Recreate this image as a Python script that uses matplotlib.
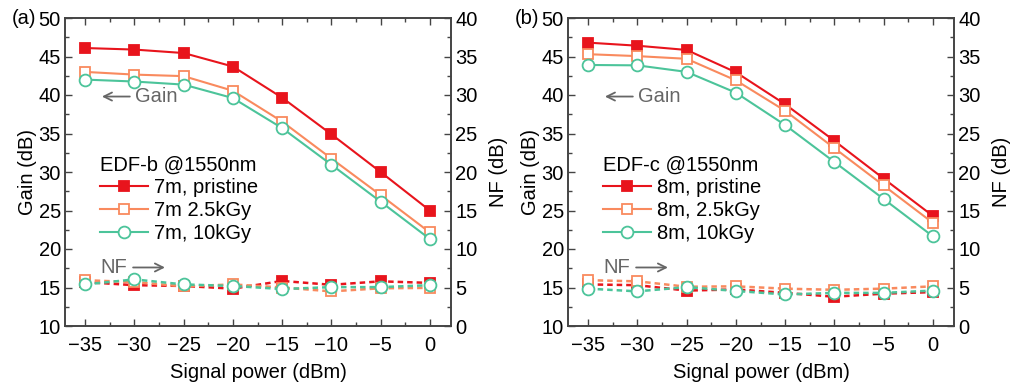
import matplotlib
matplotlib.use('Agg')
import matplotlib.pyplot as plt
from matplotlib.ticker import MultipleLocator

plt.rcParams['font.family'] = ['Liberation Sans', 'DejaVu Sans']
plt.rcParams['font.size'] = 14.5

power = [-35, -30, -25, -20, -15, -10, -5, 0]

# EDF-b, 7 m
gain_b_pristine = [46.1, 45.9, 45.45, 43.7, 39.65, 34.9, 30.0, 25.0]
gain_b_2k5 = [43.0, 42.65, 42.45, 40.55, 36.55, 31.75, 27.0, 22.15]
gain_b_10k = [42.0, 41.75, 41.35, 39.6, 35.7, 30.95, 26.15, 21.3]
nf_b_pristine = [5.7, 5.3, 5.2, 4.85, 5.85, 5.35, 5.8, 5.6]
nf_b_2k5 = [5.95, 5.7, 5.15, 5.4, 5.0, 4.5, 4.9, 4.95]
nf_b_10k = [5.4, 6.05, 5.4, 5.2, 4.8, 5.05, 5.05, 5.3]

# EDF-c, 8 m
gain_c_pristine = [46.8, 46.4, 45.85, 42.95, 38.8, 34.05, 29.15, 24.3]
gain_c_2k5 = [45.3, 45.05, 44.7, 41.9, 37.95, 33.1, 28.25, 23.4]
gain_c_10k = [43.9, 43.85, 43.0, 40.3, 36.1, 31.3, 26.5, 21.65]
nf_c_pristine = [5.4, 5.3, 4.6, 4.75, 4.3, 3.8, 4.2, 4.4]
nf_c_2k5 = [5.95, 5.8, 5.1, 5.15, 4.85, 4.7, 4.85, 5.15]
nf_c_10k = [4.85, 4.5, 5.05, 4.55, 4.1, 4.3, 4.3, 4.6]

RED = '#e8141c'
ORANGE = '#f98a5e'
GREEN = '#4cc49a'
SPINE = '#444444'
NOTE = '#666666'

panels = [
    ('(a)', 'EDF-b @1550nm',
     ['7m, pristine', '7m 2.5kGy', '7m, 10kGy'],
     [gain_b_pristine, gain_b_2k5, gain_b_10k],
     [nf_b_pristine, nf_b_2k5, nf_b_10k]),
    ('(b)', 'EDF-c @1550nm',
     ['8m, pristine', '8m, 2.5kGy', '8m, 10kGy'],
     [gain_c_pristine, gain_c_2k5, gain_c_10k],
     [nf_c_pristine, nf_c_2k5, nf_c_10k]),
]

styles = [
    dict(color=RED, marker='s', mfc=RED, mec=RED, ms=7),
    dict(color=ORANGE, marker='s', mfc='white', mec=ORANGE, ms=7),
    dict(color=GREEN, marker='o', mfc='white', mec=GREEN, ms=8.5),
]

fig = plt.figure(figsize=(10.11, 3.88), dpi=100)
lefts = [65 / 1011, 568 / 1011]

for left, (tag, title, labels, gains, nfs) in zip(lefts, panels):
    ax = fig.add_axes([left, 62 / 388, 386 / 1011, 308 / 388])
    ax2 = ax.twinx()

    for g, n, lab, st in zip(gains, nfs, labels, styles):
        ax.plot(power, g, '-', lw=1.5, mew=1.3, label=lab, zorder=3, **st)
        ax2.plot(power, n, '--', lw=1.8, mew=1.3, dashes=(2.2, 1.6), zorder=3, **st)

    ax.set_xlim(-37.05, 2.15)
    ax.set_ylim(10, 50)
    ax2.set_ylim(0, 40)
    ax.set_xticks(power)
    ax.xaxis.set_minor_locator(MultipleLocator(2.5))
    ax.yaxis.set_major_locator(MultipleLocator(5))
    ax.yaxis.set_minor_locator(MultipleLocator(2.5))
    ax2.yaxis.set_major_locator(MultipleLocator(5))
    ax2.yaxis.set_minor_locator(MultipleLocator(2.5))

    ax.tick_params(which='both', direction='in', top=True, right=False,
                   color=SPINE, width=1.0)
    ax.tick_params(which='major', length=5)
    ax.tick_params(which='minor', length=3)
    ax.tick_params(axis='x', which='major', pad=7)
    ax.tick_params(axis='y', which='major', pad=3)
    ax2.tick_params(which='both', direction='in', color=SPINE, width=1.0)
    ax2.tick_params(which='major', length=5, pad=3)
    ax2.tick_params(which='minor', length=3)
    for a in (ax, ax2):
        for s in a.spines.values():
            s.set_color(SPINE)
            s.set_linewidth(1.2)

    ax.set_xlabel('Signal power (dBm)', labelpad=6)
    ax.set_ylabel('Gain (dB)', labelpad=1)
    ax2.set_ylabel('NF (dB)', labelpad=8)

    ax.legend(title=title, loc='upper left', bbox_to_anchor=(0.09, 0.553),
              frameon=False, borderpad=0, borderaxespad=0,
              handlelength=2.4, handletextpad=0.3, labelspacing=0.18,
              alignment='left')

    ax.annotate('Gain', xy=(-33.3, 39.8), xytext=(-29.9, 39.8),
                ha='left', va='center', color=NOTE,
                arrowprops=dict(arrowstyle='->', color=NOTE, lw=1.3,
                                shrinkA=2, shrinkB=0))
    ax.annotate('NF', xy=(-26.9, 17.6), xytext=(-30.7, 17.6),
                ha='right', va='center', color=NOTE,
                arrowprops=dict(arrowstyle='->', color=NOTE, lw=1.3,
                                shrinkA=2, shrinkB=0))

    fig.text(left - 53 / 1011, 1 - 18 / 388, tag, ha='left', va='center')

fig.savefig('out.png', dpi=100)
